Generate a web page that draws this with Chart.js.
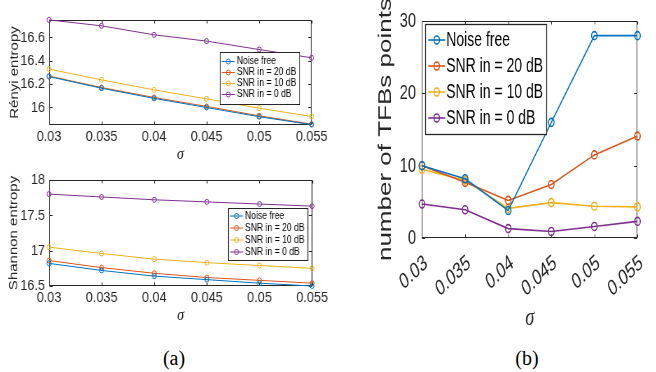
<!DOCTYPE html>
<html><head><meta charset="utf-8">
<script src="https://cdn.jsdelivr.net/npm/chart.js@4.4.1/dist/chart.umd.min.js"></script>
<style>
html,body{margin:0;padding:0;background:#fff;}
body{width:656px;height:372px;position:relative;overflow:hidden;}
canvas{position:absolute;transform-origin:0 0;}
.cap{position:absolute;font-family:'Liberation Serif','Times New Roman',serif;font-size:20px;color:#000;transform:translate(-50%,-50%);white-space:nowrap;}
</style></head><body>
<canvas id="c1"></canvas>
<canvas id="c2"></canvas>
<canvas id="c3"></canvas>
<div class="cap" style="left:174px;top:358px">(a)</div>
<div class="cap" style="left:527px;top:358px">(b)</div>
<script>
// ---- data ----
const sigmaLabels = ['0.03','0.035','0.04','0.045','0.05','0.055'];
const seriesNames = ['Noise free','SNR in = 20 dB','SNR in = 10 dB','SNR in = 0 dB'];

const renyiNoiseFree = [16.265,16.165,16.078,16.000,15.921,15.853];
const renyiSnr20     = [16.269,16.171,16.086,16.009,15.929,15.857];
const renyiSnr10     = [16.329,16.237,16.151,16.074,15.994,15.923];
const renyiSnr0      = [16.751,16.700,16.623,16.569,16.497,16.426];
const renyiTicks     = [16,16.2,16.4,16.6];

const shannonNoiseFree = [16.82,16.72,16.64,16.59,16.54,16.50];
const shannonSnr20     = [16.86,16.76,16.68,16.62,16.58,16.54];
const shannonSnr10     = [17.05,16.96,16.88,16.83,16.79,16.75];
const shannonSnr0      = [17.80,17.76,17.72,17.69,17.66,17.63];
const shannonTicks     = [16.5,17,17.5,18];

const tfbNoiseFree = [10,8.2,3.8,16,28,28];
const tfbSnr20     = [10,7.7,5.2,7.4,11.5,14.1];
const tfbSnr10     = [9.5,8.0,4.1,4.9,4.4,4.3];
const tfbSnr0      = [4.7,3.9,1.3,0.9,1.6,2.3];
const tfbTicks     = [0,10,20,30];

// ---- styles ----
const COLORS = ['#0072BD','#D95319','#EDB120','#7E2F8E'];
const AX = '#262626';
const SANS = "'Liberation Sans', Arial, sans-serif";
const SERIF = "'Liberation Serif', 'Times New Roman', serif";

const boxPlugin = {
  id: 'matlabBox',
  beforeDatasetsDraw(chart, args, o) {
    const {ctx, chartArea: a} = chart;
    const xs = chart.scales.x, ys = chart.scales.y;
    const L = o.len || 3, LX = o.lenX || L;
    const l = Math.round(a.left)+0.5, t = Math.round(a.top)+0.5, r = Math.round(a.right)-0.5, b = Math.round(a.bottom)-0.5;
    ctx.save();
    ctx.strokeStyle = AX; ctx.lineWidth = o.lw || 1;
    ctx.strokeRect(l, t, r-l, b-t);
    ctx.beginPath();
    xs.ticks.forEach((tk,i) => {
      const px = Math.round(xs.getPixelForTick(i))+0.5;
      ctx.moveTo(px,b); ctx.lineTo(px,b-L);
      ctx.moveTo(px,t); ctx.lineTo(px,t+L);
    });
    ys.ticks.forEach(tk => {
      const py = Math.round(ys.getPixelForValue(tk.value))+0.5;
      ctx.moveTo(l,py); ctx.lineTo(l+LX,py);
      ctx.moveTo(r,py); ctx.lineTo(r-LX,py);
    });
    ctx.stroke();
    ctx.restore();
  }
};

const legendPlugin = {
  id: 'boxLegend',
  afterDatasetsDraw(chart, args, o) {
    const {ctx, chartArea: a} = chart;
    const items = chart.data.datasets;
    ctx.save();
    ctx.font = o.font;
    const tw = Math.max(...items.map(d => ctx.measureText(d.label).width));
    const w = Math.round(o.padL + o.lineLen + o.gap + tw + o.padR);
    const h = Math.round(items.length*o.rowH + 2*o.padY);
    const left = Math.round(o.anchor === 'right' ? a.right - o.dx - w : a.left + o.dx);
    const top = Math.round(a.top + o.dy);
    ctx.fillStyle = '#fff';
    ctx.fillRect(left+0.5, top+0.5, w, h);
    ctx.strokeStyle = o.border; ctx.lineWidth = o.blw || 1;
    ctx.strokeRect(left+0.5, top+0.5, w, h);
    items.forEach((d,i) => {
      const cy = top + o.padY + o.rowH*(i+0.5);
      const x0 = left + o.padL;
      ctx.strokeStyle = d.borderColor; ctx.lineWidth = d.borderWidth;
      ctx.beginPath(); ctx.moveTo(x0, cy); ctx.lineTo(x0+o.lineLen, cy); ctx.stroke();
      ctx.beginPath(); ctx.arc(x0+o.lineLen/2, cy, d.pointRadius, 0, Math.PI*2); ctx.stroke();
      ctx.fillStyle = '#000'; ctx.textBaseline = 'middle'; ctx.textAlign = 'left';
      ctx.fillText(d.label, x0+o.lineLen+o.gap, cy);
    });
    ctx.restore();
  }
};

function fmt(v){ return String(parseFloat(Number(v).toFixed(4))); }

// k = horizontal compression of the whole panel (the original figure is squeezed sideways)
function makeChart(id, series, cfg) {
  const k = cfg.k;
  const cv = document.getElementById(id);
  cv.width = Math.round(cfg.w / k);
  cv.height = cfg.h;
  cv.style.left = cfg.left + 'px';
  cv.style.top = cfg.top + 'px';
  cv.style.transform = 'scaleX(' + k + ')';
  const lg = Object.assign({}, cfg.legend);
  ['dx','padL','lineLen','gap','padR'].forEach(p => { lg[p] = lg[p] / k; });
  const datasets = series.map((vals,i) => ({
    label: seriesNames[i],
    data: vals,
    borderColor: COLORS[i],
    backgroundColor: 'rgba(0,0,0,0)',
    pointBackgroundColor: 'rgba(0,0,0,0)',
    pointBorderColor: COLORS[i],
    borderWidth: cfg.lw,
    pointBorderWidth: cfg.lw,
    pointRadius: cfg.pr,
    pointStyle: 'circle',
    tension: 0,
    clip: false
  }));
  return new Chart(cv, {
    type: 'line',
    data: { labels: sigmaLabels, datasets },
    options: {
      responsive: false,
      animation: false,
      events: [],
      layout: { padding: { top: cfg.padTop, right: cfg.padRight / k, left: 0, bottom: 0 } },
      plugins: {
        legend: { display: false },
        tooltip: { enabled: false },
        matlabBox: { len: 3, lenX: 3 / k, lw: 1 },
        boxLegend: lg
      },
      scales: {
        x: {
          type: 'category',
          offset: false,
          grid: { display: false, drawTicks: false },
          border: { display: false },
          ticks: Object.assign({ color: AX, padding: 2, autoSkip: false }, cfg.xticks, { labelOffset: (cfg.xticks.labelOffset || 0) / k }),
          title: { display: true, text: 'σ', color: AX, font: cfg.xtitleFont, padding: cfg.xtitlePad },
          afterFit: s => { s.height = cfg.xh; }
        },
        y: {
          type: 'linear',
          min: cfg.ymin, max: cfg.ymax,
          grid: { display: false, drawTicks: false },
          border: { display: false },
          afterBuildTicks: s => { s.ticks = cfg.yticks.map(v => ({ value: v })); },
          ticks: { color: AX, padding: cfg.ypad / k, font: cfg.yfont, callback: v => fmt(v) },
          title: { display: true, text: cfg.ytitle, color: AX, font: cfg.ytitleFont,
                   padding: { top: cfg.ytitleCenter / k - cfg.ytitleFont.size * cfg.ytitleFont.lineHeight / 2, bottom: 0 } },
          afterFit: s => { s.width = cfg.yw / k; }
        }
      }
    },
    plugins: [boxPlugin, legendPlugin]
  });
}

makeChart('c1', [renyiNoiseFree, renyiSnr20, renyiSnr10, renyiSnr0], {
  k: 0.82, left: 0, top: 0, w: 330, h: 165,
  lw: 1, pr: 2.5,
  padTop: 20, padRight: 18,
  xh: 40, yw: 49,
  ymin: 15.85, ymax: 16.75, yticks: renyiTicks,
  xticks: { font: { family: SANS, size: 15.5 } },
  yfont: { family: SANS, size: 15.5 }, ypad: 4,
  xtitleFont: { family: SERIF, size: 17, style: 'italic', lineHeight: 1.2 }, xtitlePad: { top: 0, bottom: 0 },
  ytitle: 'Rényi entropy', ytitleFont: { family: SANS, size: 15, lineHeight: 1.2 }, ytitleCenter: 14.5,
  legend: { font: "10.5px 'Liberation Sans', Arial, sans-serif", anchor: 'right', dx: 12, dy: 32, padL: 2, lineLen: 13, gap: 2, padR: 3, rowH: 11, padY: 4, border: AX }
});

makeChart('c2', [shannonNoiseFree, shannonSnr20, shannonSnr10, shannonSnr0], {
  k: 0.82, left: 0, top: 165, w: 330, h: 165,
  lw: 1, pr: 2.5,
  padTop: 15, padRight: 17,
  xh: 44, yw: 49,
  ymin: 16.5, ymax: 18, yticks: shannonTicks,
  xticks: { font: { family: SANS, size: 15.5 } },
  yfont: { family: SANS, size: 15.5 }, ypad: 4,
  xtitleFont: { family: SERIF, size: 17, style: 'italic', lineHeight: 1.2 }, xtitlePad: { top: 0, bottom: 4 },
  ytitle: 'Shannon entropy', ytitleFont: { family: SANS, size: 15, lineHeight: 1.2 }, ytitleCenter: 14,
  legend: { font: "10.5px 'Liberation Sans', Arial, sans-serif", anchor: 'right', dx: 5, dy: 28, padL: 2, lineLen: 13, gap: 2, padR: 3, rowH: 12, padY: 2, border: AX }
});

makeChart('c3', [tfbNoiseFree, tfbSnr20, tfbSnr10, tfbSnr0], {
  k: 0.7, left: 330, top: 0, w: 326, h: 340,
  lw: 1.6, pr: 4,
  padTop: 19, padRight: 6,
  xh: 102, yw: 92,
  ymin: 0, ymax: 30, yticks: tfbTicks,
  xticks: { font: { family: SANS, size: 22 }, minRotation: 34, maxRotation: 34, padding: 12, labelOffset: 4 },
  yfont: { family: SANS, size: 21 }, ypad: 6,
  xtitleFont: { family: SERIF, size: 26, style: 'italic', lineHeight: 1.2 }, xtitlePad: { top: 0, bottom: 6 },
  ytitle: 'number of TFBs points', ytitleFont: { family: SANS, size: 26, lineHeight: 1.2 }, ytitleCenter: 56,
  legend: { font: "20px 'Liberation Sans', Arial, sans-serif", anchor: 'left', dx: 3, dy: 3, padL: 3, lineLen: 17, gap: 1, padR: 3, rowH: 26, padY: 3, border: AX, blw: 1.3 }
});
</script>
</body></html>
